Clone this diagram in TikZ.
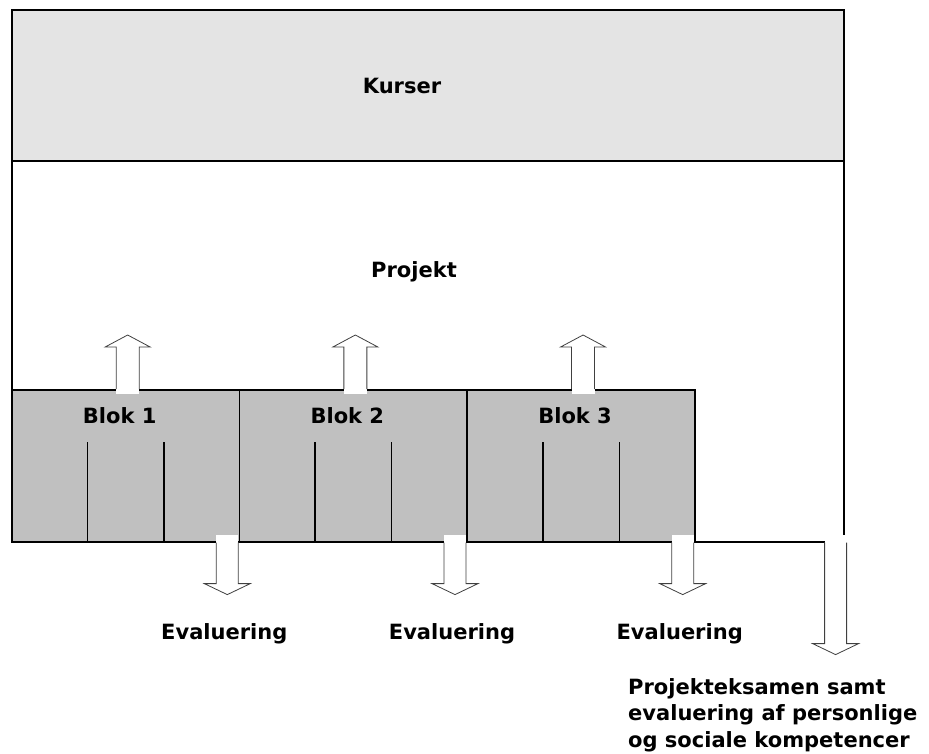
\documentclass[tikz,border=0pt]{standalone}
\usepackage{fontspec}
\setmainfont{DejaVu Sans}
\usepackage{tikz}
\usetikzlibrary{calc}

\definecolor{kursgray}{RGB}{228,228,228}
\definecolor{blokgray}{RGB}{192,192,192}
\def\arrlen{41}

\tikzset{
  every node/.style={font=\fontsize{21}{26.5}\selectfont\bfseries},
  box/.style={draw, line width=1.6pt, inner sep=0pt, anchor=north west},
  blok/.style={box, fill=blokgray, minimum width=227.7pt, minimum height=152pt},
  arrlen/.store in=\arrlen,
  uparrow/.pic={
    \fill[white] (-11.5,5) rectangle (11.5,-44);
    \draw[line width=0.8pt, draw=black!75, fill=white]
      (-11.5,0) -- (-11.5,-42) -- (-22.5,-42) -- (0,-54) -- (22.5,-42) -- (11.5,-42) -- (11.5,0);
  },
  downarrow/.pic={
    \fill[white] (-11,-8) rectangle (11,\arrlen+2);
    \draw[line width=0.8pt, draw=black!75, fill=white]
      (-11,0) -- (-11,\arrlen) -- (-23,\arrlen) -- (0,\arrlen+11) -- (23,\arrlen) -- (11,\arrlen) -- (11,0);
  }
}

\begin{document}
\begin{tikzpicture}[x=1pt,y=-1pt]
\useasboundingbox (0,0) rectangle (929,753);

% frame and course band
\node[box, fill=white, minimum width=832pt, minimum height=532pt] (frame) at (11,9) {};
\node[box, fill=kursgray, minimum width=832pt, minimum height=151pt] (band) at (11,9) {};
\node (kurser) at (402,86) {Kurser};
\node (projekt) at (414,272) {Projekt};

% the three blocks
\foreach \i in {1,2,3} {
  \node[blok] (b\i) at ({11+(\i-1)*227.7},389) {};
  \node (l\i) at ($(b\i.north)+(-6,27)$) {Blok \i};
  \foreach \k in {1,2} {
    \draw[line width=1.4pt] ($(b\i.south west)!\k/3!(b\i.south east)$) -- ++(0,-101);
  }
  \pic at ($(b\i.north)+(2,0)$) {uparrow};
  \pic at ($(b\i.south east)+(-13,0)$) {downarrow};
  \node (e\i) at ($(b\i.south east)+(-16,91)$) {Evaluering};
}

% exam arrow
\pic[arrlen=101] at ($(frame.south east)+(-9,0)$) {downarrow};
\node[align=left, anchor=north west, inner sep=0pt] (eksamen) at (628,678)
  {Projekteksamen samt\\evaluering af personlige\\og sociale kompetencer};
\end{tikzpicture}
\end{document}
